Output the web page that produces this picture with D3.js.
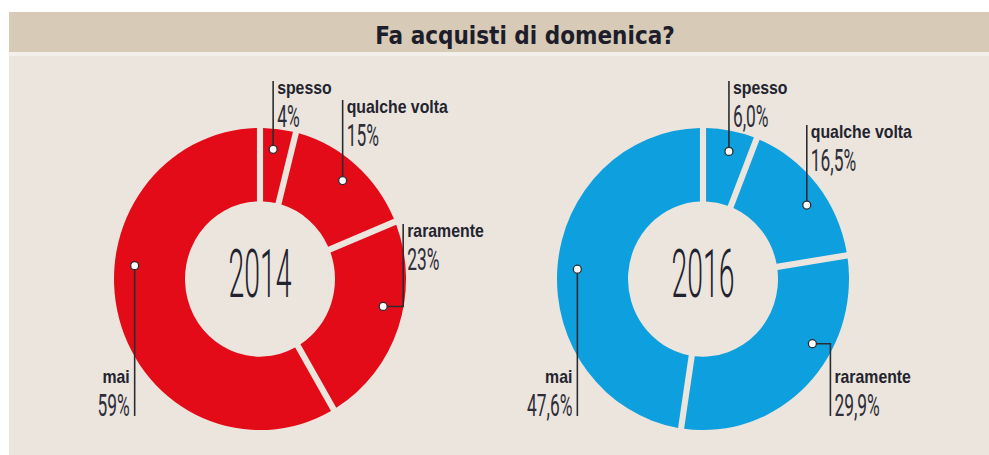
<!DOCTYPE html>
<html>
<head>
<meta charset="utf-8">
<script src="https://cdn.jsdelivr.net/npm/d3@7"></script>
<style>
  body { margin: 0; background: #fff; }
  svg { display: block; }
</style>
</head>
<body>
<div id="chart"></div>
<script>
// data
let categories = ["spesso", "qualche volta", "raramente", "mai"];
let years = ["2014", "2016"];
let values2014 = [4, 15, 23, 59];
let values2016 = [6.0, 16.5, 29.9, 47.6];
let pctLabels2014 = ["4%", "15%", "23%", "59%"];
let pctLabels2016 = ["6,0%", "16,5%", "29,9%", "47,6%"];

let chartColors = { "2014": "#e30b17", "2016": "#0d9fde" };
let bgColor = "#ebe5de";
let inkColor = "#24242e";

// where each label sits: frac = position of the dot inside its slice
let labelLayout = {
    "2014": [
        { frac: 0.42, dx: 0, nameY: 94, dir: "up", side: "right" },
        { frac: 0.5, dx: 0, nameY: 113, dir: "up", side: "right" },
        { frac: 0.42, dx: 20, nameY: 237, dir: "up", side: "right" },
        { frac: 0.6, dx: 0, nameY: 383, dir: "down", side: "left" }
    ],
    "2016": [
        { frac: 0.55, dx: 0, nameY: 94, dir: "up", side: "right" },
        { frac: 0.57, dx: 0, nameY: 138, dir: "up", side: "right" },
        { frac: 0.36, dx: 18, nameY: 383, dir: "down", side: "right" },
        { frac: 0.5, dx: 0, nameY: 383, dir: "down", side: "left" }
    ]
};

let width = 989, height = 455;
let outerR = 146, innerR = 75, dotR = 126, cy = 279, yStretch = 1.035;

let svg = d3.select("#chart")
    .append("svg")
    .attr("width", width)
    .attr("height", height);

// panel
svg.append("rect").attr("x", 9).attr("y", 12).attr("width", width - 9).attr("height", 40).style("fill", "#d7cab7");
svg.append("rect").attr("x", 9).attr("y", 52).attr("width", width - 9).attr("height", 4).style("fill", "#f3efea");
svg.append("rect").attr("x", 9).attr("y", 56).attr("width", width - 9).attr("height", height - 56).style("fill", bgColor);

svg.append("text")
    .attr("x", 525)
    .attr("y", 44)
    .style("text-anchor", "middle")
    .style("font-family", "'DejaVu Sans Condensed', sans-serif")
    .style("font-weight", "bold")
    .style("font-size", "24px")
    .style("fill", "#1d1d2b")
    .text("Fa acquisti di domenica?");

let x = d3.scalePoint().domain(years).range([260, 703]);

let pie = d3.pie().sort(null).value(function (d) { return d; });
let arc = d3.arc()
    .innerRadius(innerR)
    .outerRadius(outerR)
    .padRadius(outerR)
    .padAngle(0.042);

function drawDonut(year, values, pctLabels) {
    let g = svg.append("g")
        .attr("transform", "translate(" + x(year) + "," + cy + ")");
    let arcs = pie(values);

    g.append("g")
        .attr("transform", "scale(1," + yStretch + ")")
        .selectAll(".slice")
        .data(arcs)
        .enter()
        .append("path")
        .attr("class", "slice")
        .attr("d", arc)
        .style("fill", chartColors[year]);

    g.append("g")
        .attr("transform", "translate(0,18) scale(0.43,1)")
        .append("text")
        .style("text-anchor", "middle")
        .style("font-family", "Roboto, sans-serif")
        .style("font-weight", 300)
        .style("font-size", "66px")
        .style("fill", "#22222e")
        .text(year);

    arcs.forEach(function (a, i) {
        let lay = labelLayout[year][i];
        let ang = a.startAngle + lay.frac * (a.endAngle - a.startAngle);
        let px = dotR * Math.sin(ang), py = -dotR * Math.cos(ang) * yStretch;
        let lineX = px + lay.dx;
        let nameY = lay.nameY - cy;
        let pctY = nameY + 33;
        let pts = [[px, py]];
        if (lay.dx !== 0) pts.push([lineX, py]);
        pts.push([lineX, lay.dir === "up" ? nameY - 13 : pctY]);

        g.append("path")
            .attr("d", d3.line()(pts))
            .style("fill", "none")
            .style("stroke", "#2c2c30")
            .style("stroke-width", 1.6);

        g.append("circle")
            .attr("cx", px)
            .attr("cy", py)
            .attr("r", 4)
            .style("fill", "#fff")
            .style("stroke", "#2c2c30")
            .style("stroke-width", 1.3);

        let tx = lay.side === "right" ? lineX + 4 : lineX - 5;
        let anchor = lay.side === "right" ? "start" : "end";

        g.append("g")
            .attr("transform", "translate(" + tx + "," + nameY + ") scale(0.88,1)")
            .append("text")
            .style("text-anchor", anchor)
            .style("font-family", "'Liberation Sans', sans-serif")
            .style("font-weight", "bold")
            .style("font-size", "18px")
            .style("fill", inkColor)
            .text(categories[i]);

        g.append("g")
            .attr("transform", "translate(" + tx + "," + pctY + ") scale(0.56,1)")
            .append("text")
            .style("text-anchor", anchor)
            .style("font-family", "Roboto, sans-serif")
            .style("font-weight", 400)
            .style("font-size", "31px")
            .style("fill", "#2e2e38")
            .text(pctLabels[i]);
    });
}

drawDonut("2014", values2014, pctLabels2014);
drawDonut("2016", values2016, pctLabels2016);
</script>
</body>
</html>
